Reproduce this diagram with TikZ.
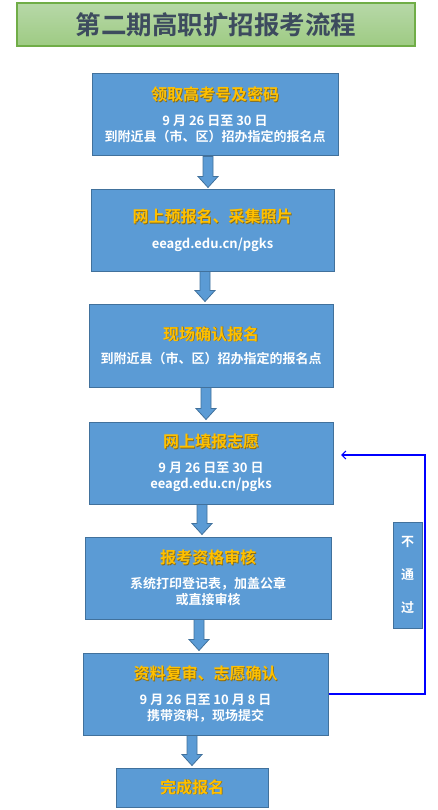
\documentclass[tikz,border=0pt]{standalone}
\usepackage{fontspec}
\setmainfont{Noto Sans CJK SC}[BoldFont={Noto Sans CJK SC Bold}]
\usetikzlibrary{calc,arrows.meta}

\definecolor{stepblue}{HTML}{5B9BD5}
\definecolor{stepedge}{HTML}{41719C}
\definecolor{stepgold}{HTML}{FFC000}
\definecolor{goldshade}{HTML}{8A6A10}
\definecolor{titleink}{HTML}{3D4B5E}
\definecolor{headedge}{HTML}{70AD47}
\definecolor{headtop}{HTML}{B7D8A8}
\definecolor{headbottom}{HTML}{9ECB83}

\tikzset{
  stepbox/.style={draw=stepedge, fill=stepblue, line width=1pt, text=white,
    align=center, inner sep=0pt, font=\bfseries\fontsize{13}{16}\selectfont},
  flowarrow/.style={draw=stepedge, fill=stepblue, line width=0.8pt},
  feedback/.style={draw=blue, line width=1.2pt, -{Straight Barb[length=4pt,width=8pt]}}
}

% gold heading with a soft shadow
\newcommand{\steptitle}[1]{{\fontsize{16}{16}\selectfont
  \rlap{\kern0.8pt\raisebox{-0.8pt}{\color{goldshade}#1}}\color{stepgold}#1}}

% block arrow between two boxes at a given x
\newcommand{\blockarrow}[3]{%
  \filldraw[flowarrow] let \p1=(#2.south), \p2=(#3.north) in
    (#1pt-5pt,\y1) -- (#1pt+5pt,\y1) -- (#1pt+5pt,\y2+13pt) -- (#1pt+10pt,\y2+13pt)
    -- (#1pt,\y2+2pt) -- (#1pt-10pt,\y2+13pt) -- (#1pt-5pt,\y2+13pt) -- cycle;}

\begin{document}
\begin{tikzpicture}[x=1pt,y=-1pt]
\useasboundingbox (0,0) rectangle (437,810);

% Heading
\node[draw=headedge, line width=1.5pt, top color=headtop, bottom color=headbottom,
  minimum width=398pt, minimum height=43pt, inner sep=0pt, text=titleink,
  font=\bfseries\fontsize{25.5}{25.5}\selectfont] (head) at (216,24.5) {第二期高职扩招报考流程};

% Steps
\node[stepbox, minimum width=246pt, minimum height=82pt] (s1) at (215,115)
  {\steptitle{领取高考号及密码}\\[9pt] 9 月 26 日至 30 日\\ 到附近县（市、区）招办指定的报名点};
\node[stepbox, minimum width=243pt, minimum height=81pt] (s2) at (212.5,230.5)
  {\steptitle{网上预报名、采集照片}\\[10pt] eeagd.edu.cn/pgks};
\node[stepbox, minimum width=244pt, minimum height=83pt] (s3) at (211,345.5)
  {\steptitle{现场确认报名}\\[7pt] 到附近县（市、区）招办指定的报名点};
\node[stepbox, minimum width=244pt, minimum height=82pt] (s4) at (211,463)
  {\steptitle{网上填报志愿}\\[9pt] 9 月 26 日至 30 日\\ eeagd.edu.cn/pgks};
\node[stepbox, minimum width=246pt, minimum height=82pt] (s5) at (208,578)
  {\steptitle{报考资格审核}\\[9pt] 系统打印登记表，加盖公章\\ 或直接审核};
\node[stepbox, minimum width=245pt, minimum height=82pt] (s6) at (205.5,694)
  {\steptitle{资料复审、志愿确认}\\[9pt] 9 月 26 日至 10 月 8 日\\ 携带资料，现场提交};
\node[stepbox, minimum width=152pt, minimum height=39pt] (s7) at (192,787.5)
  {\steptitle{完成报名}};

% Arrows down
\blockarrow{208}{s1}{s2}
\blockarrow{205}{s2}{s3}
\blockarrow{206}{s3}{s4}
\blockarrow{202}{s4}{s5}
\blockarrow{199}{s5}{s6}
\blockarrow{192}{s6}{s7}

% Not passed: back to choosing
\node[stepbox, minimum width=29pt, minimum height=106pt, font=\bfseries\fontsize{13}{33}\selectfont]
  (nopass) at (407.5,575) {不\\通\\过};
\coordinate (turn) at (425,455);
\coordinate (back) at (341,455);
\draw[feedback] (s6.east) -| (turn) -- (back);
\end{tikzpicture}
\end{document}
